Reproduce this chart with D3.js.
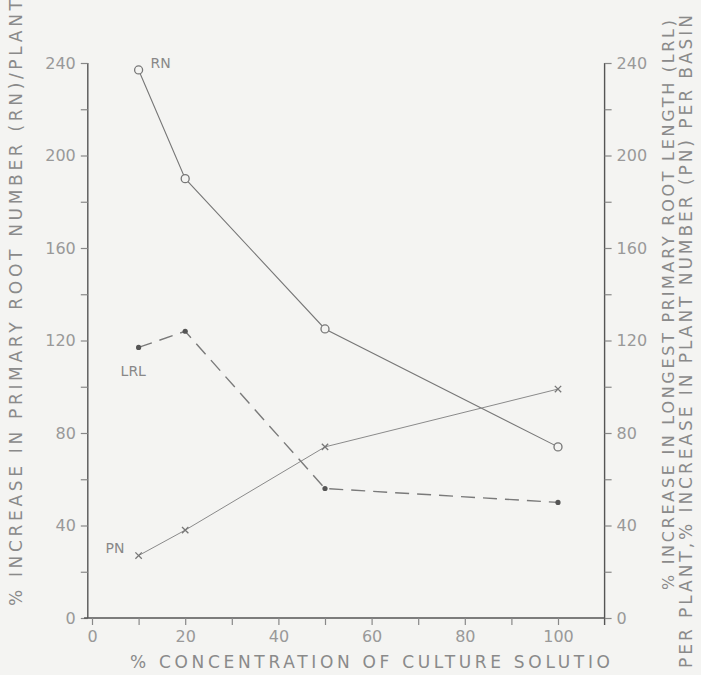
<!DOCTYPE html>
<html>
<head>
<meta charset="utf-8">
<script src="https://cdn.jsdelivr.net/npm/d3@7"></script>
<style>
  body { margin: 0; background: #f4f4f2; }
  svg { display: block; font-family: "DejaVu Sans", Lato, sans-serif; }
</style>
</head>
<body>
<svg id="chart" width="701" height="675"></svg>
<script>
// concentration of culture solution (%)
const conc = [10, 20, 50, 100];
// % increase values
const rn = [237, 190, 125, 74];   // primary root number / plant
const lrl = [117, 124, 56, 50];   // longest primary root length / plant
const pn = [27, 38, 74, 99];      // plant number / basin

const yTicks = [0, 20, 40, 60, 80, 100, 120, 140, 160, 180, 200, 220, 240];
const xTicks = [0, 10, 20, 30, 40, 50, 60, 70, 80, 90, 100];

const svg = d3.select("#chart");

const x = d3.scaleLinear().domain([0, 100]).range([92, 558]);
const y = d3.scaleLinear().domain([0, 240]).range([618, 63]);

const axisColor = "#555";
const textColor = "#999";

// left axis
const leftAxis = svg.append("g")
    .attr("transform", `translate(${x(-0.9)},0)`)
    .call(d3.axisLeft(y).tickValues(yTicks).tickSize(7).tickPadding(5)
        .tickFormat(d => d % 40 === 0 ? d : ""));

// right axis
const rightAxis = svg.append("g")
    .attr("transform", `translate(${x(110)},0)`)
    .call(d3.axisRight(y).tickValues(yTicks).tickSize(7).tickPadding(5)
        .tickFormat(d => d % 40 === 0 ? d : ""));

// bottom axis
const bottomAxis = svg.append("g")
    .attr("transform", `translate(0,${y(0)})`)
    .call(d3.axisBottom(x).tickValues(xTicks).tickSize(7).tickPadding(6)
        .tickFormat(d => d % 20 === 0 ? d : ""));

bottomAxis.select(".domain").attr("d", `M${x(-1.7)},0H${x(110)}`);
leftAxis.select(".domain").attr("d", `M0,${y(0)}V${y(240)}`);
rightAxis.select(".domain").attr("d", `M0,${y(-3)}V${y(240)}`);

[leftAxis, rightAxis, bottomAxis].forEach(g => {
    g.attr("font-family", "DejaVu Sans, sans-serif");
    g.selectAll(".domain").attr("stroke", axisColor).attr("stroke-width", 1.4);
    g.selectAll(".tick line").attr("stroke", "#888").attr("stroke-width", 1.2);
    g.selectAll(".tick text")
        .attr("fill", textColor)
        .style("font-size", "16px");
});

// lines
const line = d3.line().x(d => x(d[0])).y(d => y(d[1]));

svg.append("path")
    .datum(conc.map((c, i) => [c, rn[i]]))
    .attr("d", line)
    .attr("fill", "none")
    .attr("stroke", "#777")
    .attr("stroke-width", 1.1);

svg.append("path")
    .datum(conc.map((c, i) => [c, pn[i]]))
    .attr("d", line)
    .attr("fill", "none")
    .attr("stroke", "#8a8a8a")
    .attr("stroke-width", 1);

svg.append("path")
    .datum(conc.map((c, i) => [c, lrl[i]]))
    .attr("d", line)
    .attr("fill", "none")
    .attr("stroke", "#7a7a7a")
    .attr("stroke-width", 1.4)
    .attr("stroke-dasharray", "14,8");

// markers
svg.append("g").selectAll("circle")
    .data(conc.map((c, i) => [c, rn[i]]))
    .join("circle")
    .attr("cx", d => x(d[0]))
    .attr("cy", d => y(d[1]))
    .attr("r", 4)
    .attr("fill", "#f4f4f2")
    .attr("stroke", "#777")
    .attr("stroke-width", 1.3);

svg.append("g").selectAll("circle")
    .data(conc.map((c, i) => [c, lrl[i]]))
    .join("circle")
    .attr("cx", d => x(d[0]))
    .attr("cy", d => y(d[1]))
    .attr("r", 2.6)
    .attr("fill", "#555");

svg.append("g").selectAll("path")
    .data(conc.map((c, i) => [c, pn[i]]))
    .join("path")
    .attr("d", d => {
        const cx = x(d[0]), cy = y(d[1]), s = 3.2;
        return `M${cx - s},${cy - s}L${cx + s},${cy + s}M${cx - s},${cy + s}L${cx + s},${cy - s}`;
    })
    .attr("stroke", "#777")
    .attr("stroke-width", 1.3);

// series labels
const labelStyle = sel => sel.attr("fill", "#888").style("font-size", "14px");
svg.append("text").attr("x", x(conc[0]) + 12).attr("y", y(rn[0]) - 2).text("RN").call(labelStyle);
svg.append("text").attr("x", x(conc[0]) - 18).attr("y", y(lrl[0]) + 29).text("LRL").call(labelStyle);
svg.append("text").attr("x", x(conc[0]) - 33).attr("y", y(pn[0]) - 3).text("PN").call(labelStyle);

// axis titles
const titleStyle = sel => sel.attr("fill", "#8a8a8a")
    .style("font-size", "17px")
    .attr("lengthAdjust", "spacing");

svg.append("text")
    .attr("transform", "translate(22,606) rotate(-90)")
    .attr("textLength", 606)
    .text("% INCREASE IN PRIMARY ROOT NUMBER (RN)/PLANT")
    .call(titleStyle);

svg.append("text")
    .attr("transform", "translate(674,590) rotate(-90)")
    .attr("textLength", 570)
    .text("% INCREASE IN LONGEST PRIMARY ROOT LENGTH (LRL)")
    .call(titleStyle)
    .style("font-size", "16px");

svg.append("text")
    .attr("transform", "translate(692,668) rotate(-90)")
    .attr("textLength", 653)
    .text("PER PLANT,% INCREASE IN PLANT NUMBER (PN) PER BASIN")
    .call(titleStyle);

svg.append("text")
    .attr("x", 130)
    .attr("y", 668)
    .attr("textLength", 480)
    .text("% CONCENTRATION OF CULTURE SOLUTIO")
    .call(titleStyle);
</script>
</body>
</html>
